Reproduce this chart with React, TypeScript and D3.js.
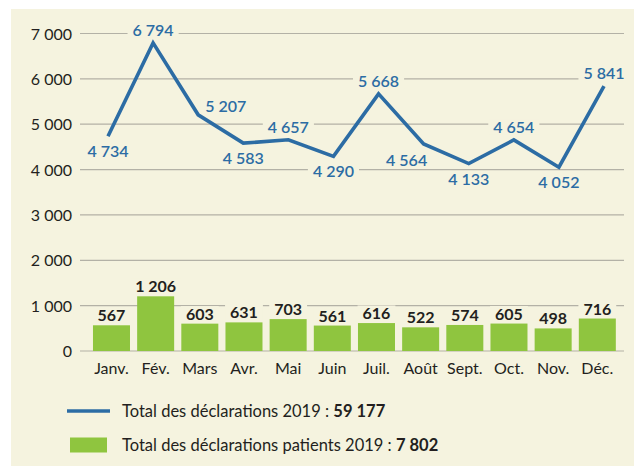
import React, { useEffect, useRef } from 'react';
import * as d3 from 'd3';

const months = ['Janv.', 'Fév.', 'Mars', 'Avr.', 'Mai', 'Juin', 'Juil.', 'Août', 'Sept.', 'Oct.', 'Nov.', 'Déc.'];
const totalDeclarations = [4734, 6794, 5207, 4583, 4657, 4290, 5668, 4564, 4133, 4654, 4052, 5841];
const patientDeclarations = [567, 1206, 603, 631, 703, 561, 616, 522, 574, 605, 498, 716];
// where each line label sits relative to its point
const labelPlacement = ['below', 'above', 'right', 'below', 'above', 'below', 'above', 'belowLeft', 'below', 'above', 'below', 'above'];
const yTicks = [0, 1000, 2000, 3000, 4000, 5000, 6000, 7000];
const legendItems = [
  { kind: 'line', label: 'Total des déclarations 2019 : ', total: '59 177' },
  { kind: 'bar', label: 'Total des déclarations patients 2019 : ', total: '7 802' },
];

const W = 634;
const H = 466;
const CREAM = '#f5f3df';
const BLUE = '#2c6ca4';
const GREEN = '#8fc53f';
const TEXT = '#231f20';
const FONT = 'Lato, "Open Sans", sans-serif';
const FS = 16;
const CAP = 11.6;

const placeOffset: Record<string, [number, number, string]> = {
  above: [0, -7, 'middle'],
  below: [0, 21, 'middle'],
  belowLeft: [-17, 22, 'middle'],
  right: [7, -3, 'start'],
};

const fr = d3.formatLocale({ decimal: ',', thousands: ' ', grouping: [3], currency: ['', ''] });
const fmt = fr.format(',');

const App: React.FC = () => {
  const svgRef = useRef<SVGSVGElement | null>(null);

  useEffect(() => {
    const svg = d3.select(svgRef.current);
    svg.selectAll('*').remove();

    const y = d3.scaleLinear().domain([0, 7000]).range([351, 33.5]);
    const xBand = d3.scaleBand().domain(months).range([89.4, 619.4]).paddingInner(0.162).paddingOuter(0.081);
    const xLine = d3.scalePoint().domain(months).range([108, 604]);

    svg.append('rect').attr('width', W).attr('height', H).attr('fill', '#fff');
    svg.append('rect').attr('x', 11).attr('y', 9).attr('width', W - 11).attr('height', H - 9).attr('fill', CREAM);

    // gridlines
    svg.append('g')
      .selectAll('line')
      .data(yTicks)
      .enter()
      .append('line')
      .attr('x1', 80)
      .attr('x2', 624)
      .attr('y1', d => y(d))
      .attr('y2', d => y(d))
      .attr('stroke', '#b3b1a6')
      .attr('stroke-width', 1.2);

    // y tick labels
    svg.append('g')
      .selectAll('text')
      .data(yTicks)
      .enter()
      .append('text')
      .attr('x', 72)
      .attr('y', d => y(d) + 2)
      .attr('text-anchor', 'end')
      .attr('dominant-baseline', 'middle')
      .attr('font-family', FONT)
      .attr('font-size', FS)
      .attr('fill', TEXT)
      .text(d => fmt(d));

    // label backgrounds layer (cuts the gridlines), then marks, then labels
    const bgLayer = svg.append('g');
    const markLayer = svg.append('g');
    const labelLayer = svg.append('g');

    const addLabel = (x: number, yb: number, anchor: string, txt: string, color: string, weight: number) => {
      const t = labelLayer.append('text')
        .attr('x', x)
        .attr('y', yb)
        .attr('text-anchor', anchor)
        .attr('font-family', FONT)
        .attr('font-size', FS)
        .attr('font-weight', weight)
        .attr('fill', color)
        .text(txt);
      const w = (t.node() as SVGTextElement).getComputedTextLength();
      const x0 = anchor === 'middle' ? x - w / 2 : x;
      bgLayer.append('rect')
        .attr('x', x0 - 5)
        .attr('y', yb - CAP - 2)
        .attr('width', w + 10)
        .attr('height', CAP + 4)
        .attr('fill', CREAM);
    };

    // bars
    markLayer.append('g')
      .selectAll('rect')
      .data(patientDeclarations)
      .enter()
      .append('rect')
      .attr('x', (_, i) => xBand(months[i])!)
      .attr('y', d => y(d))
      .attr('width', xBand.bandwidth())
      .attr('height', d => y(0) - y(d))
      .attr('fill', GREEN);

    patientDeclarations.forEach((d, i) => {
      addLabel(xBand(months[i])! + xBand.bandwidth() / 2, y(d) - 4, 'middle', fmt(d), TEXT, 700);
    });

    // line
    const line = d3.line<number>()
      .x((_, i) => xLine(months[i])!)
      .y(d => y(d));
    markLayer.append('path')
      .datum(totalDeclarations)
      .attr('d', line)
      .attr('fill', 'none')
      .attr('stroke', BLUE)
      .attr('stroke-width', 3.6)
      .attr('stroke-linejoin', 'miter');

    totalDeclarations.forEach((d, i) => {
      const [dx, dy, anchor] = placeOffset[labelPlacement[i]];
      addLabel(xLine(months[i])! + dx, y(d) + dy, anchor, fmt(d), BLUE, 600);
    });

    // month labels
    svg.append('g')
      .selectAll('text')
      .data(months)
      .enter()
      .append('text')
      .attr('x', d => xBand(d)! + xBand.bandwidth() / 2)
      .attr('y', 374)
      .attr('text-anchor', 'middle')
      .attr('font-family', FONT)
      .attr('font-size', FS)
      .attr('fill', TEXT)
      .text(d => d);

    // legend
    const legend = svg.append('g');
    legendItems.forEach((item, i) => {
      const cy = 411 + i * 34;
      if (item.kind === 'line') {
        legend.append('line')
          .attr('x1', 67).attr('x2', 110)
          .attr('y1', cy).attr('y2', cy)
          .attr('stroke', BLUE).attr('stroke-width', 3.4);
      } else {
        legend.append('rect')
          .attr('x', 70).attr('y', cy - 7.5)
          .attr('width', 37).attr('height', 15)
          .attr('fill', GREEN);
      }
      const t = legend.append('text')
        .attr('x', 122)
        .attr('y', cy + 5.5)
        .attr('font-family', FONT)
        .attr('font-size', 16.5)
        .attr('fill', TEXT);
      t.append('tspan').text(item.label);
      t.append('tspan').attr('font-weight', 700).text(item.total);
    });
  }, []);

  return (
    <svg
      ref={svgRef}
      width={W}
      height={H}
      style={{ position: 'absolute', left: 0, top: 0, display: 'block' }}
    />
  );
};

export default App;
